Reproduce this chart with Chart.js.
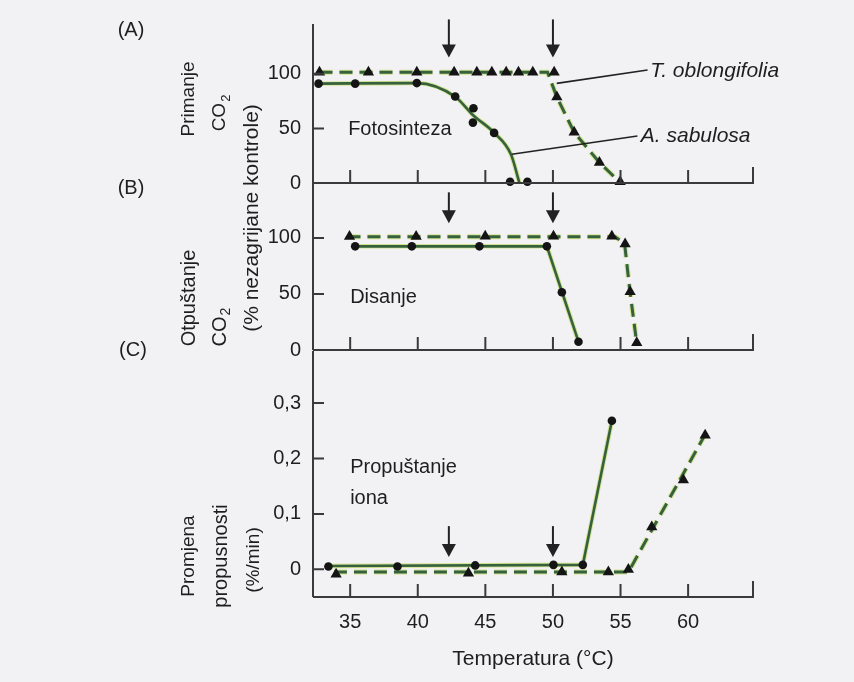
<!DOCTYPE html>
<html>
<head>
<meta charset="utf-8">
<script src="https://cdn.jsdelivr.net/npm/chart.js@4.4.0/dist/chart.umd.min.js"></script>
<style>
  html, body { margin: 0; padding: 0; background: #f2f1f3; }
  #wrap { position: relative; width: 854px; height: 682px; overflow: hidden; background: #f2f1f3; }
  #wrap canvas { position: absolute; left: 0; top: 0; }
</style>
</head>
<body>
<div id="wrap">
  <canvas id="cA" width="854" height="682"></canvas>
  <canvas id="cB" width="854" height="682"></canvas>
  <canvas id="cC" width="854" height="682"></canvas>
</div>
<script>
// ---------------- DATA ----------------
const xTicks = [35, 40, 45, 50, 55, 60];
const xMin = 32.25, xMax = 64.8;

// (A) Fotosinteza – primanje CO2 (% nezagrijane kontrole)
const photoSabTemp   = [32.66, 35.37, 39.93, 42.77, 44.12, 44.08, 45.65, 46.83, 48.11];
const photoSabValue  = [91, 91, 91.5, 79.2, 68.4, 55.3, 45.9, 1.1, 1.1];
const photoSabCurveT = [32.66, 39.93, 42.77, 44.1, 45.65, 46.9, 47.52];
const photoSabCurveV = [91, 91.5, 79, 62, 46, 26, 0];
const photoOblTemp   = [32.73, 36.35, 39.93, 42.69, 44.37, 45.48, 46.54, 47.45, 48.51, 50.09, 50.29, 51.57, 53.44, 54.97];
const photoOblValue  = [101.5, 101.5, 101.5, 101.5, 101.5, 101.5, 101.5, 101.5, 101.5, 101.5, 78.7, 46.5, 18.7, 1.1];
const photoOblLineT  = [32.73, 49.6, 50.29, 51.57, 53.44, 54.97];
const photoOblLineV  = [101.5, 101.5, 78.7, 46.5, 18.7, 0.5];
const yTicksA = [0, 50, 100];

// (B) Disanje – otpuštanje CO2 (% nezagrijane kontrole)
const respSabTemp   = [35.37, 39.56, 44.56, 49.55, 50.66, 51.89];
const respSabValue  = [92.5, 92.5, 92.5, 92.5, 51.5, 7.4];
const respSabLineT  = [35.2, 49.55, 51.89];
const respSabLineV  = [92.5, 92.5, 7.4];
const respOblTemp   = [34.95, 39.88, 44.99, 50.04, 54.36, 55.34, 55.71, 56.2];
const respOblValue  = [101.2, 101.2, 101.5, 101.5, 101.5, 94.6, 52, 6.5];
const respOblLineT  = [34.8, 54.6, 55.3, 55.7, 56.2];
const respOblLineV  = [101, 101, 95, 52, 6];
const yTicksB = [0, 50, 100];

// (C) Propuštanje iona – promjena propusnosti (%/min)
const ionSabTemp   = [33.39, 38.5, 44.25, 50.04, 52.21, 54.36];
const ionSabValue  = [0.005, 0.005, 0.007, 0.008, 0.008, 0.268];
const ionSabLineT  = [33.39, 52.21, 54.36];
const ionSabLineV  = [0.006, 0.008, 0.268];
const ionOblTemp   = [33.96, 43.75, 50.66, 54.1, 55.58, 57.31, 59.65, 61.26];
const ionOblValue  = [-0.009, -0.007, -0.005, -0.005, -0.0005, 0.0765, 0.161, 0.242];
const ionOblLineT  = [33.8, 55.58, 61.3];
const ionOblLineV  = [-0.005, -0.005, 0.245];
const yTicksC = [0, 0.1, 0.2, 0.3];
const yTickLabelsC = ['0', '0,1', '0,2', '0,3'];

// arrows (temperature thresholds) and their tip heights per panel
const arrowTemps = [42.3, 50.0];
const arrowTipA = 115, arrowTipB = 113, arrowTipC = 0.022;

// ---------------- STYLE ----------------
const FONT = "'Liberation Sans', Arial, Helvetica, sans-serif";
const GREEN = '#35613e';
const HALO = 'rgba(204,222,118,0.8)';
const MARK = '#141414';
const AXIS = '#3a3a3a';
const TEXT = '#1e1e1e';

const pts = (xs, ys) => xs.map((x, i) => ({ x: x, y: ys[i] }));

function lineSets(solidT, solidV, dashT, dashV, sabT, sabV, oblT, oblV, smooth) {
  const interp = smooth ? 'monotone' : 'default';
  return [
    { data: pts(solidT, solidV), showLine: true, borderColor: HALO, borderWidth: 4.5, pointRadius: 0, tension: 0, cubicInterpolationMode: interp, clip: false, order: 5 },
    { data: pts(dashT, dashV), showLine: true, borderColor: HALO, borderWidth: 5, borderDash: [13, 7], pointRadius: 0, tension: 0, clip: false, order: 5 },
    { data: pts(solidT, solidV), showLine: true, borderColor: GREEN, borderWidth: 2.6, pointRadius: 0, tension: 0, cubicInterpolationMode: interp, clip: false, order: 4 },
    { data: pts(dashT, dashV), showLine: true, borderColor: GREEN, borderWidth: 3, borderDash: [13, 7], pointRadius: 0, tension: 0, clip: false, order: 4 },
    { data: pts(sabT, sabV), showLine: false, pointStyle: 'circle', pointRadius: 4.3, backgroundColor: MARK, borderColor: MARK, borderWidth: 0, clip: false, order: 1 },
    { data: pts(oblT, oblV), showLine: false, pointStyle: 'triangle', pointRadius: 6.5, backgroundColor: MARK, borderColor: MARK, borderWidth: 0, clip: false, order: 1 }
  ];
}

function txt(ctx, s, x, y, o) {
  o = o || {};
  ctx.save();
  ctx.font = (o.italic ? 'italic ' : '') + (o.size || 20) + 'px ' + FONT;
  ctx.fillStyle = TEXT;
  ctx.textAlign = o.align || 'left';
  ctx.textBaseline = 'middle';
  ctx.translate(x, y);
  if (o.rot) ctx.rotate(-Math.PI / 2);
  ctx.fillText(s, 0, 0);
  ctx.restore();
}

// rotated "CO" with subscript "2", centred on (x, y)
function txtCO2(ctx, x, y, size) {
  ctx.save();
  ctx.fillStyle = TEXT;
  ctx.textBaseline = 'middle';
  ctx.translate(x, y);
  ctx.rotate(-Math.PI / 2);
  ctx.font = size + 'px ' + FONT;
  const w1 = ctx.measureText('CO').width;
  const sub = Math.round(size * 0.68);
  ctx.font = sub + 'px ' + FONT;
  const w2 = ctx.measureText('2').width;
  const x0 = -(w1 + w2 + 1) / 2;
  ctx.font = size + 'px ' + FONT;
  ctx.textAlign = 'left';
  ctx.fillText('CO', x0, 0);
  ctx.font = sub + 'px ' + FONT;
  ctx.fillText('2', x0 + w1 + 1, size * 0.32);
  ctx.restore();
}

const deco = {
  id: 'deco',
  afterDraw(chart, args, opts) {
    const { ctx, chartArea: ca } = chart;
    const x = chart.scales.x, y = chart.scales.y;
    ctx.save();
    ctx.strokeStyle = AXIS; ctx.fillStyle = AXIS; ctx.lineWidth = 2; ctx.lineCap = 'butt';
    ctx.beginPath();
    ctx.moveTo(ca.left, ca.top); ctx.lineTo(ca.left, ca.bottom);
    ctx.moveTo(ca.left, ca.bottom); ctx.lineTo(ca.right + 1, ca.bottom);
    xTicks.forEach(v => { const p = x.getPixelForValue(v); ctx.moveTo(p, ca.bottom); ctx.lineTo(p, ca.bottom - 13); });
    ctx.moveTo(ca.right, ca.bottom); ctx.lineTo(ca.right, ca.bottom - 16);
    opts.yTicks.forEach(v => { const p = y.getPixelForValue(v); ctx.moveTo(ca.left, p); ctx.lineTo(ca.left + 11, p); });
    ctx.stroke();
    ctx.strokeStyle = '#222'; ctx.fillStyle = '#222';
    arrowTemps.forEach(t => {
      const px = x.getPixelForValue(t), tip = y.getPixelForValue(opts.arrowTip);
      ctx.beginPath(); ctx.moveTo(px, tip - opts.arrowLen); ctx.lineTo(px, tip - 10); ctx.lineWidth = 2; ctx.stroke();
      ctx.beginPath(); ctx.moveTo(px - 7, tip - 13); ctx.lineTo(px + 7, tip - 13); ctx.lineTo(px, tip); ctx.closePath(); ctx.fill();
    });
    ctx.restore();
    if (opts.extra) opts.extra(chart);
  }
};

function baseOptions(yMin, yMax, yTicks, pad, tickLabels) {
  return {
    responsive: false, maintainAspectRatio: false, animation: false,
    devicePixelRatio: 1,
    layout: { padding: pad },
    plugins: { legend: { display: false }, tooltip: { enabled: false } },
    scales: {
      x: {
        type: 'linear', min: xMin, max: xMax, display: false,
        afterBuildTicks: s => { s.ticks = xTicks.map(v => ({ value: v })); }
      },
      y: {
        type: 'linear', min: yMin, max: yMax,
        grid: { display: false, drawTicks: false },
        border: { display: false },
        afterBuildTicks: s => { s.ticks = yTicks.map(v => ({ value: v })); },
        afterFit: s => { s.width = 313; },
        ticks: {
          padding: 12, color: TEXT, font: { family: FONT, size: 20 },
          callback: (v, i) => tickLabels ? tickLabels[i] : String(v)
        }
      }
    }
  };
}

// ---------- Chart A ----------
const optA = baseOptions(0, 145.6, yTicksA, { top: 17, bottom: 499, left: 0, right: 101 });
optA.plugins.deco = {
  yTicks: yTicksA, arrowTip: arrowTipA, arrowLen: 38,
  extra(chart) {
    const { ctx } = chart; const x = chart.scales.x, y = chart.scales.y;
    txt(ctx, '(A)', 131, 30, { align: 'center', size: 20 });
    txt(ctx, '(B)', 131, 188, { align: 'center', size: 20 });
    txt(ctx, '(C)', 133, 350, { align: 'center', size: 20 });
    txt(ctx, 'Primanje', 189, 99, { rot: true, align: 'center', size: 19 });
    txtCO2(ctx, 220, 113, 19);
    txt(ctx, '(% nezagrijane kontrole)', 252, 218, { rot: true, align: 'center', size: 21 });
    txt(ctx, 'Otpuštanje', 189, 298, { rot: true, align: 'center', size: 20 });
    txtCO2(ctx, 220, 327, 20);
    txt(ctx, 'Promjena', 189, 556, { rot: true, align: 'center', size: 19 });
    txt(ctx, 'propusnosti', 221, 556, { rot: true, align: 'center', size: 20 });
    txt(ctx, '(%/min)', 254, 560, { rot: true, align: 'center', size: 19 });
    txt(ctx, 'Fotosinteza', x.getPixelForValue(34.85), y.getPixelForValue(49), { size: 20 });
    ctx.save(); ctx.strokeStyle = '#222'; ctx.lineWidth = 1.6;
    ctx.beginPath();
    ctx.moveTo(x.getPixelForValue(50.28), y.getPixelForValue(91.2)); ctx.lineTo(x.getPixelForValue(57.0), y.getPixelForValue(103.5));
    ctx.moveTo(x.getPixelForValue(46.96), y.getPixelForValue(26.3)); ctx.lineTo(x.getPixelForValue(56.25), y.getPixelForValue(43));
    ctx.stroke(); ctx.restore();
    txt(ctx, 'T. oblongifolia', x.getPixelForValue(57.2), y.getPixelForValue(102.8), { italic: true, size: 21 });
    txt(ctx, 'A. sabulosa', x.getPixelForValue(56.5), y.getPixelForValue(43), { italic: true, size: 21 });
  }
};
new Chart(document.getElementById('cA'), {
  type: 'scatter',
  data: { datasets: lineSets(photoSabCurveT, photoSabCurveV, photoOblLineT, photoOblLineV, photoSabTemp, photoSabValue, photoOblTemp, photoOblValue, true) },
  options: optA,
  plugins: [deco]
});

// ---------- Chart B ----------
const optB = baseOptions(0, 149, yTicksB, { top: 183, bottom: 332, left: 0, right: 101 });
optB.plugins.deco = {
  yTicks: yTicksB, arrowTip: arrowTipB, arrowLen: 31,
  extra(chart) {
    const x = chart.scales.x, y = chart.scales.y;
    txt(chart.ctx, 'Disanje', x.getPixelForValue(35.0), y.getPixelForValue(47), { size: 20 });
  }
};
new Chart(document.getElementById('cB'), {
  type: 'scatter',
  data: { datasets: lineSets(respSabLineT, respSabLineV, respOblLineT, respOblLineV, respSabTemp, respSabValue, respOblTemp, respOblValue) },
  options: optB,
  plugins: [deco]
});

// ---------- Chart C ----------
const optC = baseOptions(-0.05, 0.394, yTicksC, { top: 351, bottom: 0, left: 0, right: 101 }, yTickLabelsC);
optC.scales.x.display = true;
optC.scales.x.grid = { display: false, drawTicks: false };
optC.scales.x.border = { display: false };
optC.scales.x.ticks = { padding: 13, color: TEXT, font: { family: FONT, size: 20 } };
optC.scales.x.title = { display: true, text: 'Temperatura (°C)', color: TEXT, font: { family: FONT, size: 21 }, padding: { top: 0, bottom: 10 } };
optC.scales.x.afterFit = s => { s.height = 85; };
optC.plugins.deco = {
  yTicks: yTicksC, arrowTip: arrowTipC, arrowLen: 31,
  extra(chart) {
    const x = chart.scales.x, y = chart.scales.y;
    txt(chart.ctx, 'Propuštanje', x.getPixelForValue(35.0), y.getPixelForValue(0.183), { size: 20 });
    txt(chart.ctx, 'iona', x.getPixelForValue(35.0), y.getPixelForValue(0.128), { size: 20 });
  }
};
new Chart(document.getElementById('cC'), {
  type: 'scatter',
  data: { datasets: lineSets(ionSabLineT, ionSabLineV, ionOblLineT, ionOblLineV, ionSabTemp, ionSabValue, ionOblTemp, ionOblValue) },
  options: optC,
  plugins: [deco]
});
</script>
</body>
</html>
